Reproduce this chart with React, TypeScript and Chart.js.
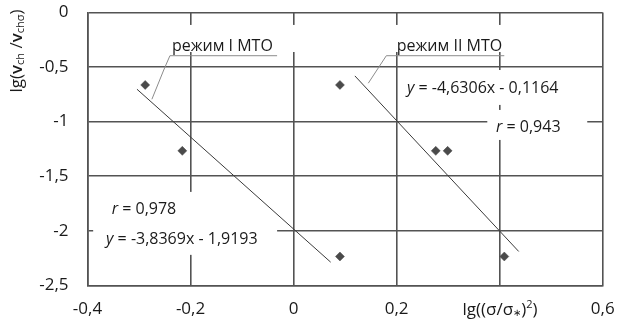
import React, { useEffect, useRef } from 'react';
import { Chart, registerables } from 'chart.js';

Chart.register(...registerables);

// ---- data ----
const pointX = [-0.288, -0.216, 0.09, 0.276, 0.299, 0.09, 0.409];
const pointY = [-0.664, -1.268, -0.664, -1.268, -1.268, -2.236, -2.236];
const trend1X = [-0.304, 0.072];
const trend1Y = [-0.703, -2.288];
const trend2X = [0.119, 0.437];
const trend2Y = [-0.581, -2.19];
const mode1Label = 'режим I МТО';
const mode2Label = 'режим II МТО';
const eq1Text = ' = -3,8369x - 1,9193';
const r1Text = ' = 0,978';
const eq2Text = ' = -4,6306x - 0,1164';
const r2Text = ' = 0,943';
const xMin = -0.4, xMax = 0.6, xStep = 0.2;
const yMin = -2.5, yMax = 0, yStep = 0.5;

const FONT = "'Open Sans', sans-serif";
const TEXT = '#1a1a1a';
const GRID = '#535353';

type Seg = { t: string; size: number; weight?: string; style?: string; dy?: number };

function drawSegs(ctx: CanvasRenderingContext2D, segs: Seg[], x: number, y: number, align: 'left' | 'center') {
  const fontOf = (s: Seg) => `${s.style || 'normal'} ${s.weight || 'normal'} ${s.size}px ${FONT}`;
  let total = 0;
  segs.forEach((s) => { ctx.font = fontOf(s); total += ctx.measureText(s.t).width; });
  let cx = align === 'center' ? x - total / 2 : x;
  ctx.textBaseline = 'middle';
  ctx.textAlign = 'left';
  segs.forEach((s) => {
    ctx.font = fontOf(s);
    ctx.fillText(s.t, cx, y + (s.dy || 0));
    cx += ctx.measureText(s.t).width;
  });
}

const annotPlugin = {
  id: 'annot',
  beforeDatasetsDraw(chart: any) {
    const { ctx, scales } = chart;
    const X = (v: number) => scales.x.getPixelForValue(v);
    const Y = (v: number) => scales.y.getPixelForValue(v);
    const boxes = [
      [-0.25, -0.114, 0.0126, -0.362],
      [0.18, -0.114, 0.42, -0.362],
      [-0.389, -1.644, -0.032, -2.221],
      [0.207, -0.527, 0.547, -0.847],
      [0.376, -0.893, 0.57, -1.168],
    ];
    ctx.save();
    ctx.fillStyle = '#ffffff';
    boxes.forEach(([x0, y0, x1, y1]) => {
      ctx.fillRect(X(x0), Y(y0), X(x1) - X(x0), Y(y1) - Y(y0));
    });
    // leader lines
    ctx.strokeStyle = '#8c8c8c';
    ctx.lineWidth = 1;
    ctx.beginPath();
    ctx.moveTo(X(-0.032), Y(-0.396));
    ctx.lineTo(X(-0.24), Y(-0.396));
    ctx.lineTo(X(-0.252), Y(-0.527));
    ctx.lineTo(X(-0.275), Y(-0.795));
    ctx.stroke();
    ctx.beginPath();
    ctx.moveTo(X(0.409), Y(-0.396));
    ctx.lineTo(X(0.18), Y(-0.396));
    ctx.lineTo(X(0.145), Y(-0.648));
    ctx.stroke();
    ctx.restore();
  },
  afterDatasetsDraw(chart: any) {
    const { ctx, scales } = chart;
    const X = (v: number) => scales.x.getPixelForValue(v);
    const Y = (v: number) => scales.y.getPixelForValue(v);
    ctx.save();
    ctx.fillStyle = TEXT;
    const fs = 16;
    drawSegs(ctx, [{ t: mode1Label, size: fs }], X(-0.236), Y(-0.307), 'left');
    drawSegs(ctx, [{ t: mode2Label, size: fs }], X(0.2004), Y(-0.307), 'left');
    drawSegs(ctx, [{ t: 'y', size: fs, style: 'italic' }, { t: eq2Text, size: fs }], X(0.22), Y(-0.694), 'left');
    drawSegs(ctx, [{ t: 'r', size: fs, style: 'italic' }, { t: r2Text, size: fs }], X(0.393), Y(-1.055), 'left');
    drawSegs(ctx, [{ t: 'r', size: fs, style: 'italic' }, { t: r1Text, size: fs }], X(-0.353), Y(-1.802), 'left');
    drawSegs(ctx, [{ t: 'y', size: fs, style: 'italic' }, { t: eq1Text, size: fs }], X(-0.364), Y(-2.083), 'left');

    // x axis title
    drawSegs(ctx, [
      { t: 'lg((σ/σ', size: 17 },
      { t: '∗', size: 10, dy: 3 },
      { t: ')', size: 17 },
      { t: '2', size: 11, dy: -5 },
      { t: ')', size: 17 },
    ], 500, 310, 'center');

    // y axis title (rotated)
    ctx.translate(17, 51);
    ctx.rotate(-Math.PI / 2);
    drawSegs(ctx, [
      { t: 'lg(', size: 17 },
      { t: 'v', size: 17, weight: '600' },
      { t: 'ch', size: 11, dy: 4 },
      { t: ' /', size: 17 },
      { t: 'v', size: 17, weight: '600' },
      { t: 'chσ', size: 11, dy: 4 },
      { t: ')', size: 17 },
    ], 0, 0, 'center');
    ctx.restore();
  },
};

const fmt = (v: number) => {
  const r = Math.round(v * 10) / 10;
  return (r === 0 ? '0' : String(r)).replace('.', ',');
};

export default function App() {
  const ref = useRef<HTMLCanvasElement | null>(null);
  useEffect(() => {
    if (!ref.current) return;
    const chart = new Chart(ref.current, {
      type: 'scatter',
      data: {
        datasets: [
          {
            label: 'points',
            data: pointX.map((x, i) => ({ x, y: pointY[i] })),
            pointStyle: 'rectRot',
            pointRadius: 4.5,
            backgroundColor: '#4a4a4a',
            borderColor: '#4a4a4a',
            borderWidth: 0.5,
            showLine: false,
          },
          {
            label: 'trend I',
            data: trend1X.map((x, i) => ({ x, y: trend1Y[i] })),
            showLine: true,
            pointRadius: 0,
            borderColor: '#3a3a3a',
            borderWidth: 1,
          },
          {
            label: 'trend II',
            data: trend2X.map((x, i) => ({ x, y: trend2Y[i] })),
            showLine: true,
            pointRadius: 0,
            borderColor: '#3a3a3a',
            borderWidth: 1,
          },
        ],
      },
      options: {
        animation: false,
        responsive: true,
        maintainAspectRatio: false,
        layout: { padding: { top: 12.5, right: 22.3, left: 0, bottom: 0 } },
        plugins: { legend: { display: false }, tooltip: { enabled: false }, title: { display: false } },
        scales: {
          x: {
            type: 'linear',
            min: xMin,
            max: xMax,
            afterFit: (s: any) => { s.height = 41.7; s.paddingLeft = 0; s.paddingRight = 0; },
            ticks: {
              stepSize: xStep,
              padding: 14,
              color: TEXT,
              font: { family: FONT, size: 17 },
              maxRotation: 0,
              callback: (v: any) => (Math.abs(v - 0.4) < 1e-6 ? '' : fmt(v)),
            },
            grid: { color: GRID, lineWidth: 1.6, drawTicks: false },
            border: { color: GRID, width: 1.6 },
          },
          y: {
            type: 'linear',
            min: yMin,
            max: yMax,
            afterFit: (s: any) => { s.width = 87.5; s.paddingTop = 0; s.paddingBottom = 0; },
            ticks: {
              stepSize: yStep,
              padding: 19,
              color: TEXT,
              font: { family: FONT, size: 17 },
              callback: (v: any) => fmt(v),
            },
            grid: { color: GRID, lineWidth: 1.6, drawTicks: false },
            border: { color: GRID, width: 1.6 },
          },
        },
      },
      plugins: [annotPlugin],
    } as any);
    return () => chart.destroy();
  }, []);
  return (
    <div style={{ position: 'fixed', left: 0, top: 0, width: 625, height: 327, background: '#fff' }}>
      <canvas ref={ref} />
    </div>
  );
}
